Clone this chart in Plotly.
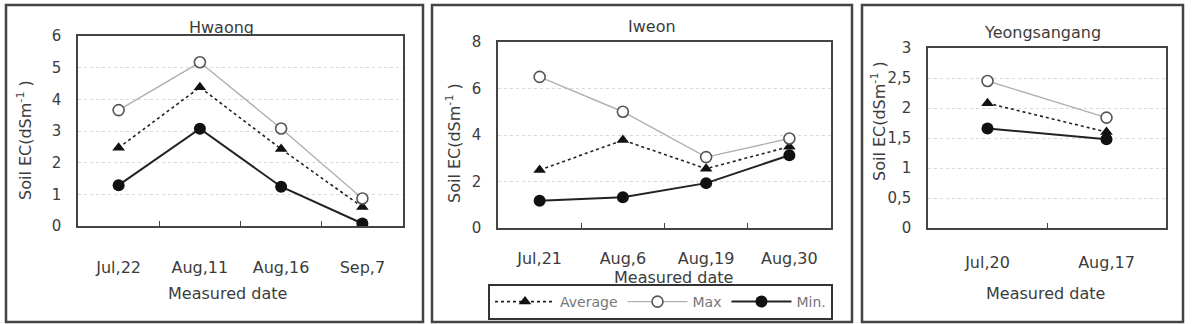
import plotly.graph_objects as go

# ---- data ----
hw_dates = ["Jul,22", "Aug,11", "Aug,16", "Sep,7"]
hw_avg = [2.47, 4.38, 2.43, 0.60]
hw_max = [3.66, 5.17, 3.08, 0.87]
hw_min = [1.29, 3.07, 1.24, 0.08]

iw_dates = ["Jul,21", "Aug,6", "Aug,19", "Aug,30"]
iw_avg = [2.49, 3.78, 2.55, 3.50]
iw_max = [6.50, 5.00, 3.05, 3.85]
iw_min = [1.17, 1.32, 1.93, 3.13]

ys_dates = ["Jul,20", "Aug,17"]
ys_avg = [2.08, 1.60]
ys_max = [2.45, 1.84]
ys_min = [1.66, 1.48]

panel_titles = ["Hwaong", "Iweon", "Yeongsangang"]
ys_ticks = [0, 0.5, 1, 1.5, 2, 2.5, 3]
ys_ticktext = ["0", "0,5", "1", "1,5", "2", "2,5", "3"]

W, H = 1196, 324
FONT = "DejaVu Sans"
TXT = "#3c3c3c"


def px(x):
    return x / W


def py(y):
    return 1 - y / H


fig = go.Figure()

panels = [
    (hw_dates, hw_avg, hw_max, hw_min, "x", "y"),
    (iw_dates, iw_avg, iw_max, iw_min, "x2", "y2"),
    (ys_dates, ys_avg, ys_max, ys_min, "x3", "y3"),
]

for i, (d, a, mx, mn, xa, ya) in enumerate(panels):
    show = (i == 1)
    fig.add_trace(go.Scatter(
        x=d, y=a, xaxis=xa, yaxis=ya, name="Average", mode="lines+markers",
        line=dict(color="#222222", width=1.6, dash="dot"),
        marker=dict(symbol="triangle-up", size=11, color="#111111"),
        showlegend=show, legendrank=1))
    fig.add_trace(go.Scatter(
        x=d, y=mx, xaxis=xa, yaxis=ya, name="Max", mode="lines+markers",
        line=dict(color="#b0b0b0", width=1.4),
        marker=dict(symbol="circle", size=11, color="white",
                    line=dict(color="#555555", width=1.6)),
        showlegend=show, legendrank=2))
    fig.add_trace(go.Scatter(
        x=d, y=mn, xaxis=xa, yaxis=ya, name="Min.", mode="lines+markers",
        line=dict(color="#222222", width=2),
        marker=dict(symbol="circle", size=12, color="#111111"),
        showlegend=show, legendrank=3))

axis_common = dict(
    showline=True, linecolor="#444444", linewidth=1.5, mirror=True,
)

# plot areas in pixels: (left, right, top, bottom)
areas = [(78, 403, 36, 226), (498, 831, 42, 228), (928, 1166, 48, 228)]
yranges = [[0, 6], [0, 8], [0, 3]]
ydticks = [1, 2, 0.5]
xstandoff = [26, 15, 19]
ncats = [4, 4, 2]

layout = dict(
    width=W, height=H, margin=dict(l=0, r=0, t=0, b=0, autoexpand=False),
    paper_bgcolor="white", plot_bgcolor="white",
    showlegend=True,
)
for i, (l, r, t, b) in enumerate(areas):
    sfx = "" if i == 0 else str(i + 1)
    xa = dict(axis_common, domain=[px(l), px(r)], anchor="y" + sfx,
              range=[-0.5, ncats[i] - 0.5], type="category",
              tickson="boundaries", ticks="inside", ticklen=5,
              tickcolor="#444444", showgrid=False,
              ticklabelstandoff=xstandoff[i],
              tickfont=dict(family=FONT, size=16, color=TXT))
    ya = dict(axis_common, domain=[py(b), py(t)], anchor="x" + sfx,
              range=yranges[i], dtick=ydticks[i], tick0=0, ticks="",
              showgrid=True, gridcolor="#d8d8d8", griddash="dot",
              gridwidth=1, zeroline=False, ticklabelstandoff=12,
              tickfont=dict(family=FONT, size=15, color=TXT))
    if i == 2:
        ya["tickmode"] = "array"
        ya["tickvals"] = ys_ticks
        ya["ticktext"] = ys_ticktext
    layout["xaxis" + sfx] = xa
    layout["yaxis" + sfx] = ya

layout["legend"] = dict(
    orientation="h", x=px(488), y=py(284), xanchor="left", yanchor="top",
    bordercolor="#333333", borderwidth=2, bgcolor="white",
    font=dict(family=FONT, size=14, color="#777777"),
    itemwidth=60, tracegroupgap=0, valign="middle",
)
fig.update_layout(**layout)

# panel frames
frames = [(6, 423, 5, 322), (432, 852, 5, 322), (862, 1183, 5, 322)]
for (l, r, t, b) in frames:
    fig.add_shape(type="rect", xref="paper", yref="paper",
                  x0=px(l), x1=px(r), y0=py(b), y1=py(t),
                  line=dict(color="#444444", width=2.5), layer="below")

# titles & axis titles as annotations
title_pos = [(222, 27), (652, 26), (1042, 32)]
ytitle_pos = [(25, 140), (453, 143), (878, 121)]
xtitle_pos = [(227, 293), (673, 277), (1045, 293)]
for i in range(3):
    fig.add_annotation(text=panel_titles[i], xref="paper", yref="paper",
                       x=px(title_pos[i][0]), y=py(title_pos[i][1]),
                       showarrow=False, xanchor="center", yanchor="middle",
                       font=dict(family=FONT, size=16, color=TXT))
    fig.add_annotation(text="Soil EC(dSm<sup>-1</sup> )", xref="paper", yref="paper",
                       x=px(ytitle_pos[i][0]), y=py(ytitle_pos[i][1]),
                       showarrow=False, textangle=-90,
                       xanchor="center", yanchor="middle",
                       font=dict(family=FONT, size=16, color=TXT))
    fig.add_annotation(text="Measured date", xref="paper", yref="paper",
                       x=px(xtitle_pos[i][0]), y=py(xtitle_pos[i][1]),
                       showarrow=False, xanchor="center", yanchor="middle",
                       font=dict(family=FONT, size=16, color=TXT))

fig.write_html("out.html")
